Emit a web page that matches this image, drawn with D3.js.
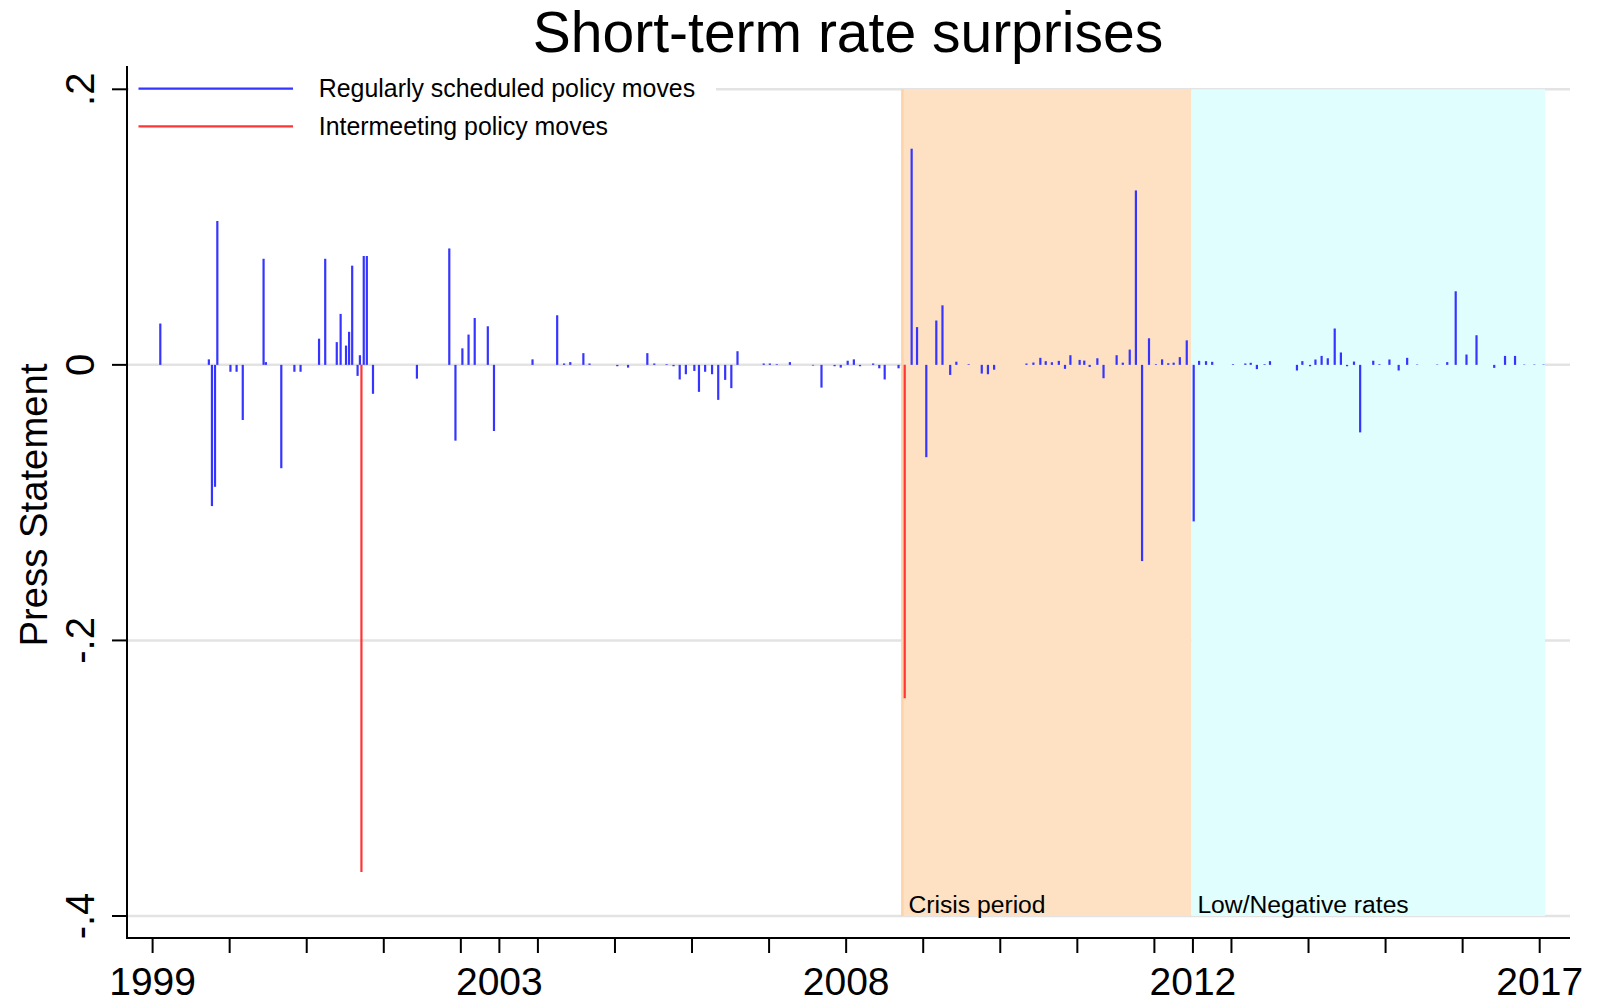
<!DOCTYPE html>
<html>
<head>
<meta charset="utf-8">
<script src="https://cdn.jsdelivr.net/npm/d3@7"></script>
<style>
    body { margin: 0; background: #fff; }
    svg { font-family: "Liberation Sans", Arial, sans-serif; display: block; }
    .grid line { stroke: #e3e3e3; stroke-width: 2.5; }
    .axis-line { stroke: #000; stroke-width: 2; }
</style>
</head>
<body>
<div id="chart"></div>
<script>
// ------------------------------------------
//  Data (dates as decimal years)
// ------------------------------------------
const regDates = [
    1999.10, 1999.73, 1999.77, 1999.81, 1999.84, 2000.01, 2000.09, 2000.17, 2000.44, 2000.47,
    2000.67, 2000.84, 2000.92, 2001.16, 2001.24, 2001.39, 2001.44, 2001.51, 2001.55, 2001.59,
    2001.66, 2001.69, 2001.74, 2001.78, 2001.86, 2002.43, 2002.85, 2002.93, 2003.02, 2003.10,
    2003.18, 2003.35, 2003.43, 2003.93, 2004.25, 2004.34, 2004.42, 2004.59, 2004.67, 2005.03,
    2005.17, 2005.42, 2005.51, 2005.67, 2005.76, 2005.84, 2005.92, 2006.03, 2006.09, 2006.17,
    2006.26, 2006.34, 2006.43, 2006.51, 2006.59, 2006.93, 2007.01, 2007.10, 2007.27, 2007.57,
    2007.68, 2007.85, 2007.93, 2008.02, 2008.10, 2008.18, 2008.35, 2008.43, 2008.50, 2008.68,
    2008.85, 2008.92, 2009.04, 2009.17, 2009.25, 2009.35, 2009.43, 2009.59, 2009.76, 2009.84,
    2009.92, 2010.34, 2010.43, 2010.52, 2010.59, 2010.67, 2010.76, 2010.84, 2010.91, 2011.03,
    2011.09, 2011.16, 2011.26, 2011.34, 2011.51, 2011.59, 2011.68, 2011.76, 2011.84, 2011.93,
    2012.02, 2012.10, 2012.18, 2012.25, 2012.33, 2012.42, 2012.51, 2012.58, 2012.67, 2012.75,
    2013.02, 2013.18, 2013.25, 2013.33, 2013.43, 2013.50, 2013.85, 2013.92, 2014.02, 2014.09,
    2014.17, 2014.25, 2014.34, 2014.42, 2014.50, 2014.59, 2014.67, 2014.84, 2014.92, 2015.05,
    2015.17, 2015.28, 2015.41, 2015.67, 2015.80, 2015.91, 2016.05, 2016.18, 2016.41, 2016.55,
    2016.68, 2016.80, 2016.93, 2017.05
]
const regValues = [
    0.030, 0.004, -0.1025, -0.0885, 0.1044, -0.005, -0.005, -0.040, 0.077, 0.002,
    -0.075, -0.005, -0.005, 0.019, 0.077, 0.0165, 0.037, 0.014, 0.024, 0.072,
    -0.008, 0.007, 0.079, 0.079, -0.021, -0.010, 0.0845, -0.055, 0.012, 0.022,
    0.034, 0.028, -0.048, 0.004, 0.036, 0.001, 0.002, 0.0085, 0.001, -0.001,
    -0.002, 0.0085, 0.001, 0.0005, -0.001, -0.0106, -0.0068, -0.0044, -0.0196, -0.005,
    -0.0068, -0.0254, -0.0109, -0.0169, 0.0099, 0.001, 0.001, 0.0005, 0.002, -0.0005,
    -0.0165, -0.001, -0.002, 0.003, 0.004, -0.001, 0.001, -0.0025, -0.0106, -0.0025,
    0.1569, 0.0274, -0.067, 0.0322, 0.0432, -0.0073, 0.0023, 0.0005, -0.0063, -0.0068,
    -0.0035, 0.001, 0.0017, 0.0051, 0.0027, 0.0019, 0.0029, -0.0029, 0.007, 0.0036,
    0.0031, -0.0015, 0.0048, -0.0097, 0.007, 0.0016, 0.0111, 0.1266, -0.1424, 0.0193,
    0.0005, 0.004, 0.0012, 0.0016, 0.0056, 0.0178, -0.1136, 0.0029, 0.0027, 0.0022,
    0.0005, 0.001, 0.0015, -0.0031, 0.0005, 0.0027, -0.0041, 0.0027, -0.001, 0.0039,
    0.0065, 0.0048, 0.0264, 0.009, -0.001, 0.0024, -0.049, 0.003, 0.0005, 0.0039,
    -0.0041, 0.0051, 0.0003, 0.0003, 0.002, 0.0534, 0.0075, 0.0215, -0.0022, 0.0065,
    0.0065, 0.0003, 0.0003, 0.0003
]
const interDates = [2001.71, 2008.76]
const interValues = [-0.368, -0.242]

const periods = [
    { label: "Crisis period", start: 2008.73, end: 2012.48, fill: "#fee1c3" },
    { label: "Low/Negative rates", start: 2012.48, end: 2017.07, fill: "#e1fefe" }
]

const yearTicks = d3.range(1999, 2018)
const labelTicks = [1999, 2003.5, 2008, 2012.5, 2017]
const labelText = ["1999", "2003", "2008", "2012", "2017"]
const yTicks = [0.2, 0, -0.2, -0.4]
const yTickText = [".2", "0", "-.2", "-.4"]

// ------------------------------------------
//  Chart
// ------------------------------------------
function drawChart() {
    const W = 1597, H = 1003
    const svg = d3.select("#chart").append("svg").attr("width", W).attr("height", H)

    const x = d3.scaleLinear().domain([1999, 2017]).range([152.6, 1539.7])
    const y = d3.scaleLinear().domain([0.2, -0.4]).range([89.3, 916])
    const left = 127, right = 1570, bottom = 938, top = 66

    // gridlines
    svg.append("g").attr("class", "grid")
        .selectAll("line").data(yTicks).enter().append("line")
        .attr("x1", left).attr("x2", right)
        .attr("y1", d => y(d)).attr("y2", d => y(d))

    // shaded periods
    svg.append("g").selectAll("rect").data(periods).enter().append("rect")
        .attr("x", d => x(d.start))
        .attr("width", d => x(d.end) - x(d.start))
        .attr("y", y(0.2))
        .attr("height", y(-0.4) - y(0.2))
        .attr("fill", d => d.fill)

    svg.append("line")
        .attr("x1", x(periods[0].start)).attr("x2", x(periods[0].start))
        .attr("y1", y(0.2)).attr("y2", y(-0.4))
        .attr("stroke", "#fcd3a8").attr("stroke-width", 2.5)

    svg.append("g").selectAll("text").data(periods).enter().append("text")
        .attr("x", d => x(d.start) + 6)
        .attr("y", y(-0.4) - 3)
        .attr("font-size", 24.7)
        .text(d => d.label)

    // spikes
    const reg = regDates.map((d, i) => [d, regValues[i]])
    const inter = interDates.map((d, i) => [d, interValues[i]])

    svg.append("g").selectAll("line").data(reg).enter().append("line")
        .attr("x1", d => x(d[0])).attr("x2", d => x(d[0]))
        .attr("y1", y(0)).attr("y2", d => y(d[1]))
        .attr("stroke", "#3535ff").attr("stroke-width", 2.2)

    svg.append("g").selectAll("line").data(inter).enter().append("line")
        .attr("x1", d => x(d[0])).attr("x2", d => x(d[0]))
        .attr("y1", y(0)).attr("y2", d => y(d[1]))
        .attr("stroke", "#ff3535").attr("stroke-width", 2.2)

    // legend
    const lg = svg.append("g")
    lg.append("rect").attr("x", left + 2).attr("y", top).attr("width", 587).attr("height", 80).attr("fill", "#fff")
    const items = [["Regularly scheduled policy moves", "#3535ff"], ["Intermeeting policy moves", "#ff3535"]]
    items.forEach((it, i) => {
        const ly = 88.6 + i * 37.7
        lg.append("line").attr("x1", 138.5).attr("x2", 293).attr("y1", ly).attr("y2", ly)
            .attr("stroke", it[1]).attr("stroke-width", 2.2)
        lg.append("text").attr("x", 318.8).attr("y", ly).attr("dy", "0.35em")
            .attr("font-size", 24.9).text(it[0])
    })

    // axes
    svg.append("line").attr("class", "axis-line")
        .attr("x1", left).attr("x2", left).attr("y1", top).attr("y2", bottom + 1)
    svg.append("line").attr("class", "axis-line")
        .attr("x1", left - 1).attr("x2", right).attr("y1", bottom).attr("y2", bottom)

    const xTickAll = yearTicks.concat([2003.5, 2012.5])
    svg.append("g").selectAll("line").data(xTickAll).enter().append("line")
        .attr("x1", d => x(d)).attr("x2", d => x(d))
        .attr("y1", bottom).attr("y2", bottom + 15)
        .attr("stroke", "#000").attr("stroke-width", 2)

    svg.append("g").selectAll("text").data(labelTicks).enter().append("text")
        .attr("x", d => x(d)).attr("y", 995)
        .attr("text-anchor", "middle").attr("font-size", 39)
        .text((d, i) => labelText[i])

    svg.append("g").selectAll("line").data(yTicks).enter().append("line")
        .attr("x1", left - 15).attr("x2", left)
        .attr("y1", d => y(d)).attr("y2", d => y(d))
        .attr("stroke", "#000").attr("stroke-width", 2)

    svg.append("g").selectAll("text").data(yTicks).enter().append("text")
        .attr("transform", d => `translate(94,${y(d)}) rotate(-90)`)
        .attr("text-anchor", "middle").attr("font-size", 40)
        .text((d, i) => yTickText[i])

    svg.append("text")
        .attr("transform", `translate(47,505) rotate(-90)`)
        .attr("text-anchor", "middle").attr("font-size", 38.3)
        .text("Press Statement")

    svg.append("text")
        .attr("x", 848).attr("y", 52)
        .attr("text-anchor", "middle").attr("font-size", 57)
        .text("Short-term rate surprises")
}

drawChart()
</script>
</body>
</html>
